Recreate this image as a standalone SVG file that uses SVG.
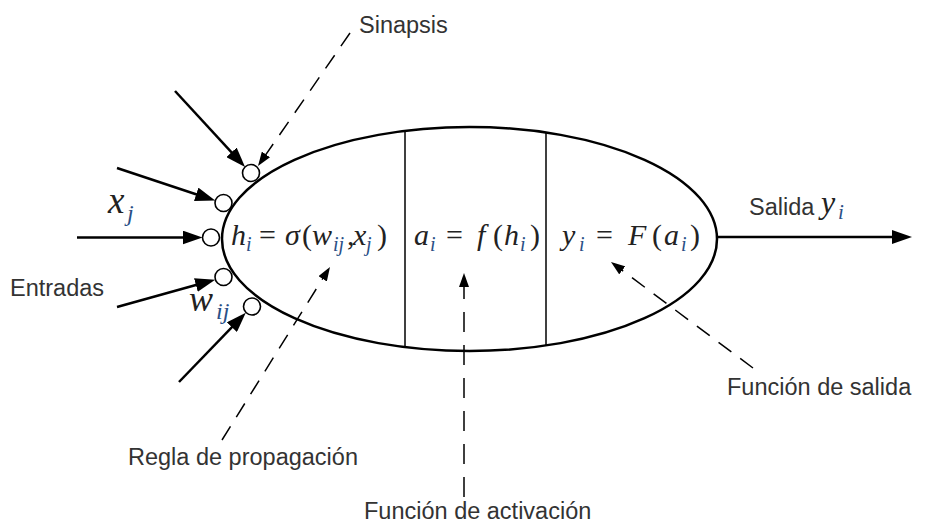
<svg xmlns="http://www.w3.org/2000/svg" width="927" height="524" viewBox="0 0 927 524">
<style>
.lbl{font-family:"Liberation Sans",Arial,sans-serif;font-size:23.5px;fill:#333}
.m{font-family:"Liberation Serif","Times New Roman",serif;font-size:30px;fill:#222}
.it{font-style:italic}
.sub{font-size:20px;font-style:italic;fill:#2a4f86}
.in{stroke:#000;stroke-width:2.5;fill:none;marker-end:url(#big)}
.dash{stroke:#000;stroke-width:1.5;fill:none;stroke-dasharray:16 11;marker-end:url(#small)}
.syn{fill:#fff;stroke:#000;stroke-width:1.6}
</style>
<defs>
<marker id="big" markerUnits="userSpaceOnUse" markerWidth="20" markerHeight="14" refX="14" refY="7" orient="auto">
<path d="M0,0 L20,7 L0,14 z" fill="#000"/>
</marker>
<marker id="small" markerUnits="userSpaceOnUse" markerWidth="14" markerHeight="10" refX="11" refY="5" orient="auto">
<path d="M0,0 L14,5 L0,10 z" fill="#000"/>
</marker>
</defs>

<g id="neuron">
<ellipse cx="469.5" cy="239" rx="247.5" ry="112" fill="#fff" stroke="#000" stroke-width="2.5"/>
<line x1="405" y1="131" x2="405" y2="347" stroke="#000" stroke-width="1.5"/>
<line x1="546" y1="132.5" x2="546" y2="345.5" stroke="#000" stroke-width="1.5"/>
</g>

<g id="synapses">
<circle class="syn" cx="251" cy="173" r="8.5"/>
<circle class="syn" cx="223.5" cy="203" r="8.5"/>
<circle class="syn" cx="211" cy="237.5" r="8.5"/>
<circle class="syn" cx="223.5" cy="277" r="8.5"/>
<circle class="syn" cx="252" cy="306.5" r="8.5"/>
</g>

<g id="connectors">
<line class="in" x1="175" y1="91" x2="241" y2="162.6"/>
<line class="in" x1="117" y1="168" x2="209.5" y2="198.7"/>
<line class="in" x1="77" y1="237.5" x2="196.5" y2="237.5"/>
<line class="in" x1="117" y1="307" x2="209.4" y2="281.3"/>
<line class="in" x1="179" y1="382" x2="241.6" y2="317.1"/>
<line class="in" x1="717" y1="237" x2="906" y2="237"/>
<line class="dash" x1="350" y1="33" x2="259.7" y2="163.5"/>
<line class="dash" x1="222" y1="440" x2="328.4" y2="269.5"/>
<line class="dash" style="stroke-dasharray:20 13" x1="464" y1="497" x2="464" y2="276"/>
<line class="dash" x1="753" y1="368" x2="613.4" y2="263.8"/>
</g>

<g id="formulas">
<text class="m" y="245"><tspan class="it" x="231">h</tspan><tspan class="sub" x="246" y="251">i</tspan><tspan x="259" y="245">=</tspan><tspan class="it" x="285">σ</tspan><tspan x="302">(</tspan><tspan class="it" x="312">w</tspan><tspan class="sub" x="333" y="251">ij</tspan><tspan x="347" y="245">,</tspan><tspan class="it" x="353">x</tspan><tspan class="sub" x="366" y="251">j</tspan><tspan x="377" y="245">)</tspan></text>
<text class="m" y="245"><tspan class="it" x="414">a</tspan><tspan class="sub" x="430" y="251">i</tspan><tspan x="446" y="245">=</tspan><tspan class="it" x="477">f</tspan><tspan x="493">(</tspan><tspan class="it" x="504">h</tspan><tspan class="sub" x="520" y="251">i</tspan><tspan x="530" y="245">)</tspan></text>
<text class="m" y="245"><tspan class="it" x="562">y</tspan><tspan class="sub" x="579" y="251">i</tspan><tspan x="596" y="245">=</tspan><tspan class="it" x="628">F</tspan><tspan x="652">(</tspan><tspan class="it" x="664">a</tspan><tspan class="sub" x="681" y="251">i</tspan><tspan x="690" y="245">)</tspan></text>
</g>

<g id="labels">
<text class="lbl" x="359" y="33">Sinapsis</text>
<text class="lbl" x="10" y="296">Entradas</text>
<text class="lbl" x="128" y="465">Regla de propagación</text>
<text class="lbl" x="364" y="519">Función de activación</text>
<text class="lbl" x="727" y="395">Función de salida</text>
<text class="lbl" x="749" y="215">Salida</text>
<text class="m it" x="821" y="213" style="font-size:32px">y<tspan class="sub" x="838" y="219" style="font-size:21px">i</tspan></text>
<text class="m it" x="108" y="213" style="font-size:37px">x<tspan class="sub" x="127" y="221" style="font-size:24px">j</tspan></text>
<text class="m it" x="189" y="311" style="font-size:36px">w<tspan class="sub" x="216" y="319" style="font-size:24px">ij</tspan></text>
</g>
</svg>
